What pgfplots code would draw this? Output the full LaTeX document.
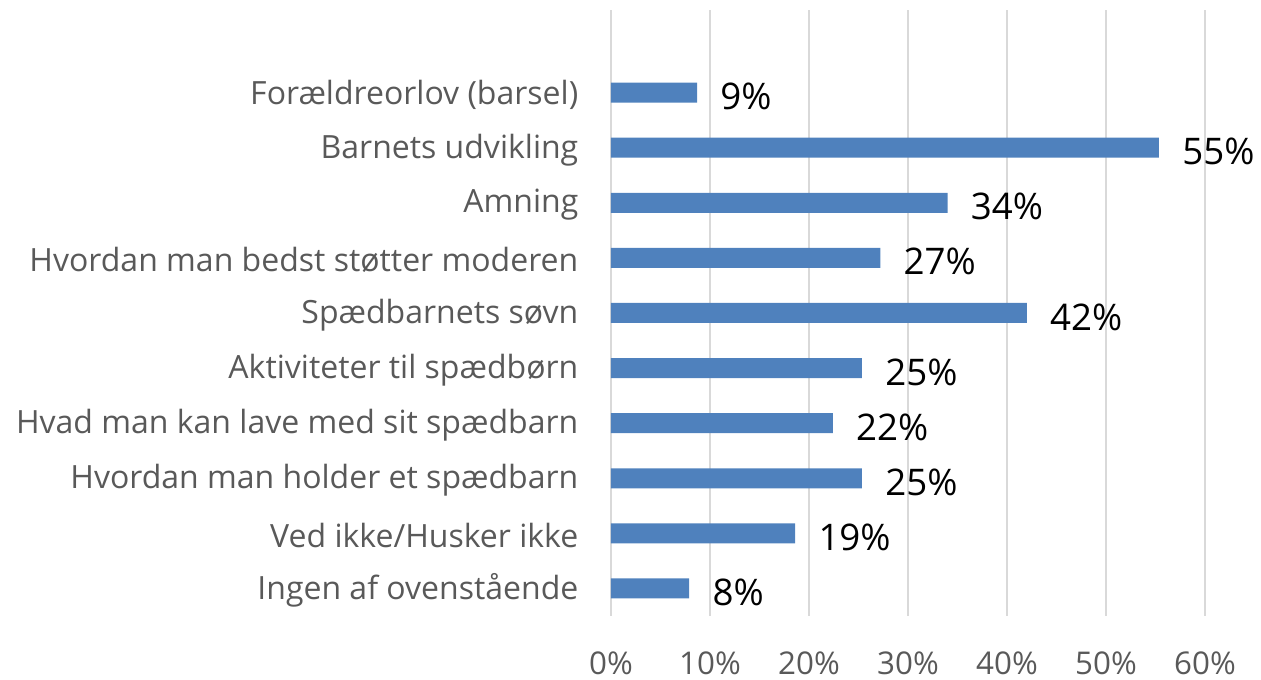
\documentclass[border=0pt]{standalone}
\usepackage{pgfplots}
\pgfplotsset{compat=1.18}
\usepackage{fontspec}
\setmainfont{Open Sans}
\definecolor{barblue}{HTML}{4F81BD}
\definecolor{txtgray}{HTML}{595959}
\definecolor{gridgray}{HTML}{D9D9D9}
\begin{document}
\begin{tikzpicture}
\begin{axis}[
  scale only axis,
  width=445.5pt, height=454.5pt,
  xmin=0, xmax=60, ymin=-0.5, ymax=10.5,
  xbar, bar width=15pt,
  axis line style={draw=none},
  major tick length=0pt,
  xmajorgrids, major grid style={gridgray, line width=1.1pt},
  xtick={0,10,20,30,40,50,60},
  xticklabels={0\%,10\%,20\%,30\%,40\%,50\%,60\%},
  xticklabel style={font=\fontsize{23.5pt}{28pt}\selectfont, text=txtgray, yshift=-23pt},
  ytick={0,1,2,3,4,5,6,7,8,9},
  yticklabels={Ingen af ovenstående, Ved ikke/Husker ikke, Hvordan man holder et spædbarn, Hvad man kan lave med sit spædbarn, Aktiviteter til spædbørn, Spædbarnets søvn, Hvordan man bedst støtter moderen, Amning, Barnets udvikling, Forældreorlov (barsel)},
  yticklabel style={font=\fontsize{24pt}{28pt}\selectfont, text=txtgray, xshift=-21pt, yshift=-1.5pt},
  nodes near coords,
  point meta=explicit symbolic,
  every node near coord/.append style={font=\fontsize{27.5pt}{32pt}\selectfont, text=black, anchor=west, xshift=14pt, yshift=-3pt},
  clip=false,
]
\addplot[fill=barblue, draw=none] coordinates {
  (7.9,0) [8\%]
  (18.6,1) [19\%]
  (25.35,2) [25\%]
  (22.4,3) [22\%]
  (25.35,4) [25\%]
  (42.0,5) [42\%]
  (27.2,6) [27\%]
  (34.0,7) [34\%]
  (55.35,8) [55\%]
  (8.7,9) [9\%]
};
\end{axis}
\pgfresetboundingbox
\useasboundingbox (-458.25pt,-48pt) rectangle (487.5pt,462pt);
\end{tikzpicture}
\end{document}
